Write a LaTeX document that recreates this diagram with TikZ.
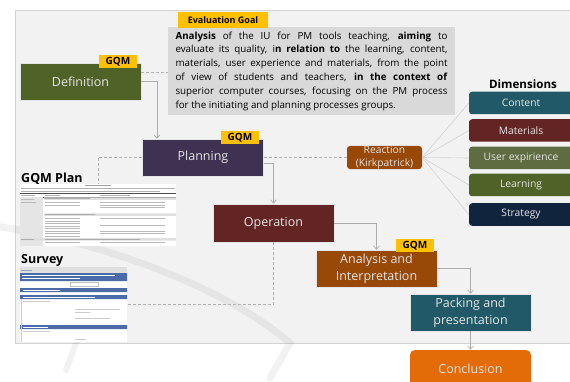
\documentclass[tikz,border=0pt]{standalone}
\usepackage{fontspec}
\setmainfont{Open Sans}
\usetikzlibrary{arrows.meta}
\definecolor{panelgray}{HTML}{F2F2F2}
\definecolor{goalgray}{HTML}{D9D9D9}
\definecolor{gqmyellow}{HTML}{FFC000}
\definecolor{defgreen}{HTML}{4F6228}
\definecolor{planpurple}{HTML}{3F3151}
\definecolor{opred}{HTML}{632523}
\definecolor{anabrown}{HTML}{984807}
\definecolor{packteal}{HTML}{215968}
\definecolor{conclorange}{HTML}{E36C09}
\definecolor{dimolive}{HTML}{5F6B40}
\definecolor{dimnavy}{HTML}{10243E}
\definecolor{survblue}{HTML}{4A6BA8}

\begin{document}
\begin{tikzpicture}[x=1pt,y=-1pt,
  phase/.style={draw=white!80!gray, line width=.5pt, minimum width=121, minimum height=37, inner sep=1pt,
    text=white!90!black, align=center, font=\fontsize{12.5}{17}\selectfont},
  gqm/.style={fill=gqmyellow, minimum width=38, minimum height=13, inner sep=0pt, font=\bfseries\fontsize{10}{12}\selectfont},
  dim/.style={rounded corners=3pt, minimum width=104, minimum height=22.5, inner sep=0pt,
    text=white!90!black, align=center, font=\fontsize{10.3}{13}\selectfont},
  heading/.style={anchor=west, inner sep=0pt, font=\bfseries\fontsize{12.5}{14}\selectfont},
  flow/.style={draw=gray!65, line width=.6pt, -{Straight Barb[length=3.5pt,width=6pt]}},
  link/.style={draw=gray!60, line width=.5pt, densely dashed},
  spoke/.style={draw=gray!35, line width=.6pt}]
\clip (0,0) rectangle (570,382);
\fill[panelgray] (15,10) rectangle (575,343);
\draw[gray!35, line width=.4pt] (575,10) -- (15,10) -- (15,343) -- (575,343);
% watermark
\draw[black, opacity=.05, line width=7, line cap=round] (-5,226) .. controls (120,245) and (235,295) .. (290,343) -- (270,378);
\draw[black, opacity=.05, line width=6, line cap=round] (98,285) -- (66,370);

% goal
\node[fill=goalgray, minimum width=287, minimum height=88, inner sep=0pt, align=left,
  font=\fontsize{9.8}{13.8}\selectfont] (goal) at (311.5,71)
  {\makebox[272pt][s]{\textbf{Analysis} of the IU for PM tools teaching, \textbf{aiming} to}\\
   \makebox[272pt][s]{evaluate its quality, i\textbf{n relation to} the learning, content,}\\
   \makebox[272pt][s]{materials, user experience and materials, from the point}\\
   \makebox[272pt][s]{of view of students and teachers, \textbf{in the context of}}\\
   \makebox[272pt][s]{superior computer courses, focusing on the PM process}\\
   for the initiating and planning processes groups.};
\node[gqm, minimum width=90, minimum height=16, font=\bfseries\fontsize{9}{11}\selectfont] (goaltag) at (223,20) {Evaluation Goal};

% phases
\node[phase, fill=defgreen] (def) at (80.5,81.5) {Definition};
\node[phase, fill=planpurple] (plan) at (203,157.5) {Planning};
\node[phase, fill=opred, minimum height=38] (op) at (273.5,223) {Operation};
\node[phase, fill=anabrown] (ana) at (376.5,268.5) {Analysis and\\Interpretation};
\node[phase, fill=packteal] (pack) at (470.5,312.5) {Packing and\\presentation};
\node[phase, fill=conclorange, draw=none, rounded corners=5pt, minimum height=38] (concl) at (470.5,369) {Conclusion};
\node[gqm] (defgqm) at (118,61.5) {GQM};
\node[gqm] (plangqm) at (240,138) {GQM};
\node[gqm] (anagqm) at (415,245.5) {GQM};

% dimensions
\node[dim, fill=anabrown, minimum width=75, minimum height=23] (reac) at (384.5,157.5) {Reaction\\(Kirkpatrick)};
\node[font=\bfseries\fontsize{11.6}{14}\selectfont, inner sep=0pt] (dimtitle) at (523,84) {Dimensions};
\foreach \n/\c/\y/\t in {content/packteal/103/Content, materials/opred/130.5/Materials,
    userexp/dimolive/158/User expirience, learning/defgreen/185/Learning, strategy/dimnavy/214.5/Strategy}
  \node[dim, fill=\c] (\n) at (521,\y) {\t};
\foreach \n in {content,materials,userexp,learning,strategy}
  \draw[spoke] (reac.east) -- (\n.west);

% GQM plan table
\node[heading] (plantitle) at (21,179) {GQM Plan};
\node[fill=white, minimum width=156, minimum height=62, inner sep=0pt] (planimg) at (98,215) {};
\begin{scope}[shift={(20,184)}]
\draw[gray!75, line width=.8] (65,1.8) -- (91,1.8);
\draw[gray!60, line width=.7] (1,4.5) -- (155,4.5) (1,7) -- (140,7);
\draw[black!70, line width=.5] (0,9.5) -- (156,9.5) (0,13) -- (156,13);
\draw[gray!60, line width=.7] (1,11.3) -- (15,11.3) (25,11.3) -- (40,11.3) (80,11.3) -- (110,11.3);
\fill[gray!20] (0,13) rectangle (23,62);
\fill[gray!25] (24,13.5) rectangle (156,16) (24,29.5) rectangle (156,32) (0,54) rectangle (156,56.5);
\draw[gray!65, line width=.6] (25,14.7) -- (70,14.7) (25,30.7) -- (75,30.7) (1,55.2) -- (14,55.2) (25,55.2) -- (120,55.2);
\draw[gray!55, line width=.6] (1,15) -- (14,15) (1,18) -- (16,18);
\foreach \y in {18.5,21,34.5,37,39.5,42,44.5,47,49.5,52,58.5}
  \draw[gray!55, line width=.6] (25,\y) -- (60,\y);
\foreach \y in {18.5,21,23.5,34.5,41,47,49.5,58.5}
  \draw[gray!55, line width=.6] (80,\y) -- (145,\y);
\end{scope}

% survey
\node[heading] (survtitle) at (21,260) {Survey};
\node[fill=white, minimum width=107, minimum height=75, inner sep=0pt] (survimg) at (73.5,304.5) {};
\begin{scope}[shift={(20,267)}]
\fill[gray!25] (0,0) rectangle (107,6);
\fill[survblue] (0,6) rectangle (107,14) (0,21) rectangle (107,25) (0,28) rectangle (107,32) (0,58) rectangle (107,62);
\draw[gray!40] (1,32) -- (1,75) (1,62) -- (1,75);
\draw[survblue!60, line width=.6] (1,3) -- (12,3);
\draw[white, line width=.6] (2,8.5) -- (95,8.5) (2,11.5) -- (60,11.5) (3,23) -- (40,23) (3,30) -- (75,30) (3,60) -- (28,60);
\draw[gray!50, line width=.4] (50,15.5) rectangle (78,19);
\draw[gray!40, line width=.5] (3,34.5) -- (30,34.5) (55,42) -- (100,42) (55,45) -- (70,45) (55,51) -- (90,51)
  (3,64.5) -- (30,64.5) (55,72) -- (66,72);
\end{scope}

% connectors
\draw[link] (def.east |- 0,72) -- (goal.west |- 0,72);
\draw[flow] (def.east) -| ([xshift=-46]plan.north);
\draw[link] (plan.west) -| (planimg.north);
\draw[link] (plan.east) -- (reac.west);
\draw[flow] ([yshift=-6]plan.east) -| (op.north);
\draw[link] (op.south) |- (survimg.east);
\draw[flow] (op.east) -| (ana.north);
\draw[flow] (ana.east) -| (pack.north);
\draw[flow] (pack.south) -- (concl.north);
\end{tikzpicture}
\end{document}
